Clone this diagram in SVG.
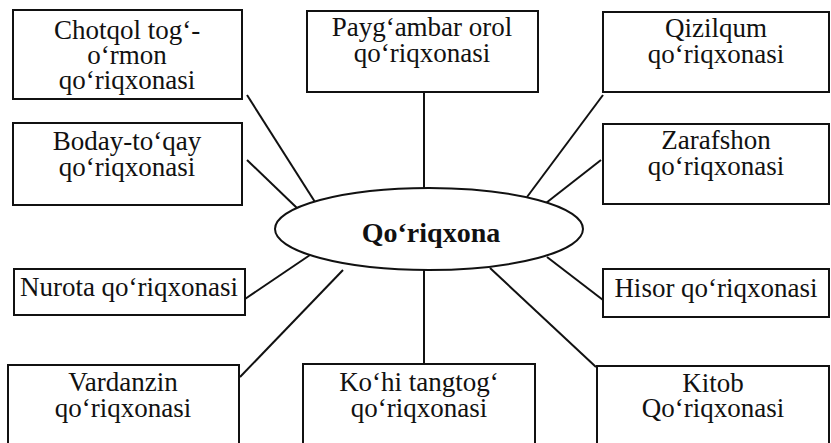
<svg xmlns="http://www.w3.org/2000/svg" width="831" height="443" viewBox="0 0 831 443">
<style>
.box{fill:#fff;stroke:#111;stroke-width:2}
.conn{stroke:#111;stroke-width:2;fill:none}
.lbl{font-family:'Liberation Serif',serif;font-size:27px;fill:#111;text-anchor:middle}
.ctr{font-family:'Liberation Serif',serif;font-size:28px;font-weight:bold;fill:#111;text-anchor:middle}
</style>
<rect width="831" height="443" fill="#fff"/>
<g id="connectors">
<line class="conn" x1="247" y1="95" x2="315" y2="202"/>
<line class="conn" x1="247" y1="160" x2="297" y2="208"/>
<line class="conn" x1="424" y1="92" x2="424" y2="188"/>
<line class="conn" x1="603" y1="95" x2="527" y2="197"/>
<line class="conn" x1="601" y1="160" x2="546" y2="203"/>
<line class="conn" x1="245" y1="299" x2="310" y2="255"/>
<line class="conn" x1="240" y1="377" x2="343" y2="270"/>
<line class="conn" x1="424" y1="270" x2="424" y2="364"/>
<line class="conn" x1="603" y1="300" x2="547" y2="257"/>
<line class="conn" x1="596" y1="367" x2="490" y2="268"/>
</g>
<g id="center">
<ellipse cx="429" cy="229" rx="154" ry="41" fill="#fff" stroke="#111" stroke-width="2"/>
<text class="ctr" x="431" y="242">Qo‘riqxona</text>
</g>
<g id="chotqol">
<rect class="box" x="13" y="10" width="229" height="89"/>
<text class="lbl" x="127" y="39">Chotqol tog‘-</text>
<text class="lbl" x="127" y="64">o‘rmon</text>
<text class="lbl" x="127" y="89">qo‘riqxonasi</text>
</g>
<g id="boday">
<rect class="box" x="13" y="123" width="229" height="82"/>
<text class="lbl" x="127" y="150">Boday-to‘qay</text>
<text class="lbl" x="127" y="176">qo‘riqxonasi</text>
</g>
<g id="paygambar">
<rect class="box" x="307" y="11" width="231" height="81"/>
<text class="lbl" x="422" y="36">Payg‘ambar orol</text>
<text class="lbl" x="422" y="62">qo‘riqxonasi</text>
</g>
<g id="qizilqum">
<rect class="box" x="603" y="12" width="226" height="80"/>
<text class="lbl" x="716" y="37">Qizilqum</text>
<text class="lbl" x="716" y="63">qo‘riqxonasi</text>
</g>
<g id="zarafshon">
<rect class="box" x="603" y="124" width="226" height="80"/>
<text class="lbl" x="716" y="149">Zarafshon</text>
<text class="lbl" x="716" y="175">qo‘riqxonasi</text>
</g>
<g id="nurota">
<rect class="box" x="14" y="269" width="231" height="46"/>
<text class="lbl" x="129" y="296">Nurota qo‘riqxonasi</text>
</g>
<g id="hisor">
<rect class="box" x="603" y="269" width="226" height="48"/>
<text class="lbl" x="716" y="297">Hisor qo‘riqxonasi</text>
</g>
<g id="vardanzin">
<rect class="box" x="8" y="365" width="231" height="90"/>
<text class="lbl" x="123" y="391">Vardanzin</text>
<text class="lbl" x="123" y="417">qo‘riqxonasi</text>
</g>
<g id="kohi">
<rect class="box" x="303" y="364" width="232" height="91"/>
<text class="lbl" x="419" y="391">Ko‘hi tangtog‘</text>
<text class="lbl" x="419" y="417">qo‘riqxonasi</text>
</g>
<g id="kitob">
<rect class="box" x="597" y="366" width="232" height="89"/>
<text class="lbl" x="713" y="392">Kitob</text>
<text class="lbl" x="713" y="417">Qo‘riqxonasi</text>
</g>
</svg>
